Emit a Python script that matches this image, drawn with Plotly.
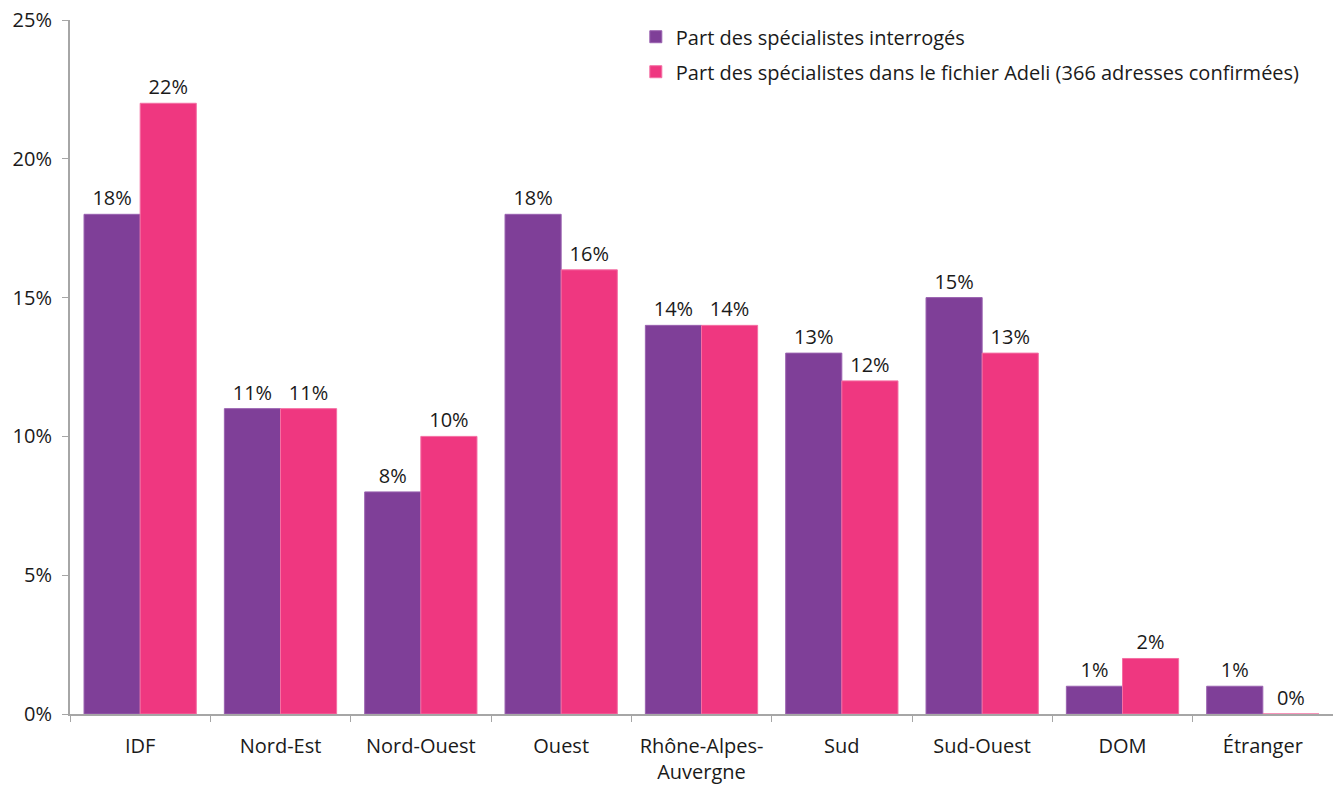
import plotly.graph_objects as go

regions = ["IDF", "Nord-Est", "Nord-Ouest", "Ouest", "Rhône-Alpes-<br>Auvergne",
           "Sud", "Sud-Ouest", "DOM", "Étranger"]
interroges = [18, 11, 8, 18, 14, 13, 15, 1, 1]
adeli = [22, 11, 10, 16, 14, 12, 13, 2, 0]

y_ticks = [0, 5, 10, 15, 20, 25]

font_family = "'Open Sans', Lato, sans-serif"
axis_color = "#a6a6a6"
text_color = "#1a1a1a"
fsize = 20

fig = go.Figure()
fig.add_trace(go.Bar(
    x=regions, y=interroges, name="Part des spécialistes interrogés",
    legendgroup="a",
    marker=dict(color="#7f3f98", line=dict(color="#9a62b0", width=1)),
    text=[f"{v}%" for v in interroges], textposition="outside",
    textfont=dict(size=fsize, color=text_color), cliponaxis=False,
))
fig.add_trace(go.Bar(
    x=regions, y=adeli,
    name="Part des spécialistes dans le fichier Adeli (366 adresses confirmées)",
    legendgroup="b",
    marker=dict(color="#ef3780", line=dict(color="#f46fa3", width=1)),
    text=[f"{v}%" for v in adeli], textposition="outside",
    textfont=dict(size=fsize, color=text_color), cliponaxis=False,
))

fig.update_layout(
    width=1333, height=785,
    margin=dict(l=70, r=0, t=20, b=71),
    paper_bgcolor="white", plot_bgcolor="white",
    font=dict(family=font_family, size=fsize, color=text_color),
    barmode="group", bargap=0.2, bargroupgap=0,
    showlegend=True,
    legend=dict(x=0.448, xanchor="left", y=1.004, yanchor="top",
                font=dict(size=fsize), bgcolor="rgba(0,0,0,0)",
                traceorder="grouped", tracegroupgap=6, itemwidth=30),
)
fig.update_xaxes(
    type="category", showline=True, linecolor=axis_color, linewidth=2,
    ticks="outside", tickson="boundaries", ticklen=6, tickcolor=axis_color,
    showgrid=False, tickfont=dict(size=fsize), ticklabelstandoff=13,
)
fig.update_yaxes(
    range=[0, 25], tickvals=y_ticks, ticktext=[f"{t}%" for t in y_ticks],
    showline=True, linecolor=axis_color, linewidth=2,
    ticks="outside", ticklen=6, tickcolor=axis_color,
    showgrid=False, zeroline=False, tickfont=dict(size=fsize),
    ticklabelstandoff=6,
)

fig.write_html("out.html")
